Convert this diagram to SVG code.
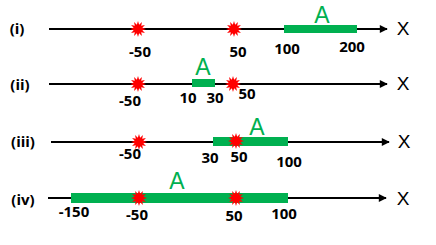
<svg xmlns="http://www.w3.org/2000/svg" width="436" height="245" viewBox="0 0 436 245">
<style>
.axis{stroke:#000;stroke-width:2;fill:none}
.bar{fill:#00b050}
.lbl{font-family:"Open Sans",sans-serif;font-weight:bold;font-size:15px;fill:#000;text-anchor:middle}
.a{font-family:"Liberation Sans",Arial,sans-serif;font-size:23px;fill:#00b050;text-anchor:middle}
.x{font-family:"Liberation Sans",Arial,sans-serif;font-size:19px;fill:#000;text-anchor:middle}
.star{fill:#ff0000}
</style>
<defs>
<marker id="arr" viewBox="0 0 10 10" refX="9" refY="5" markerWidth="5" markerHeight="4" orient="auto" markerUnits="strokeWidth">
<path d="M0,0 L10,5 L0,10 z" fill="#000"/>
</marker>
<polygon id="burst" points="8,0 4.35,1.16 6.93,4 3.18,3.18 4,6.93 1.16,4.35 0,8 -1.16,4.35 -4,6.93 -3.18,3.18 -6.93,4 -4.35,1.16 -8,0 -4.35,-1.16 -6.93,-4 -3.18,-3.18 -4,-6.93 -1.16,-4.35 0,-8 1.16,-4.35 4,-6.93 3.18,-3.18 6.93,-4 4.35,-1.16"/>
</defs>
<g id="connectors">
<line class="axis" x1="49" y1="29" x2="387" y2="29" marker-end="url(#arr)"/>
<line class="axis" x1="49" y1="84" x2="387" y2="84" marker-end="url(#arr)"/>
<line class="axis" x1="51" y1="142" x2="389" y2="142" marker-end="url(#arr)"/>
<line class="axis" x1="48" y1="198" x2="386" y2="198" marker-end="url(#arr)"/>
</g>
<g id="row1">
<text class="lbl" x="17" y="34">(i)</text>
<rect class="bar" x="284" y="25" width="73" height="8"/>
<use href="#burst" class="star" x="138" y="29"/>
<use href="#burst" class="star" x="234" y="29"/>
<text class="a" x="322" y="23">A</text>
<text class="x" x="403" y="35">X</text>
<text class="lbl" x="140" y="57">-50</text>
<text class="lbl" x="238" y="57">50</text>
<text class="lbl" x="287" y="54">100</text>
<text class="lbl" x="352" y="52">200</text>
</g>
<g id="row2">
<text class="lbl" x="20" y="90">(ii)</text>
<rect class="bar" x="192" y="79" width="23" height="8"/>
<use href="#burst" class="star" x="138" y="84"/>
<use href="#burst" class="star" x="233" y="84"/>
<text class="a" x="203" y="75">A</text>
<text class="x" x="403" y="90">X</text>
<text class="lbl" x="130" y="106">-50</text>
<text class="lbl" x="188" y="103">10</text>
<text class="lbl" x="215" y="103">30</text>
<text class="lbl" x="247" y="99">50</text>
</g>
<g id="row3">
<text class="lbl" x="23" y="147">(iii)</text>
<rect class="bar" x="213" y="137" width="75" height="9"/>
<use href="#burst" class="star" x="139" y="142"/>
<use href="#burst" class="star" x="236" y="141"/>
<text class="a" x="257" y="135">A</text>
<text class="x" x="404" y="148">X</text>
<text class="lbl" x="130" y="159">-50</text>
<text class="lbl" x="210" y="163">30</text>
<text class="lbl" x="239" y="162">50</text>
<text class="lbl" x="289" y="167">100</text>
</g>
<g id="row4">
<text class="lbl" x="23" y="205">(iv)</text>
<rect class="bar" x="71" y="193" width="217" height="10"/>
<use href="#burst" class="star" x="139" y="198"/>
<use href="#burst" class="star" x="236" y="198"/>
<text class="a" x="177" y="189">A</text>
<text class="x" x="403" y="205">X</text>
<text class="lbl" x="74" y="217">-150</text>
<text class="lbl" x="137" y="220">-50</text>
<text class="lbl" x="234" y="221">50</text>
<text class="lbl" x="284" y="219">100</text>
</g>
</svg>
